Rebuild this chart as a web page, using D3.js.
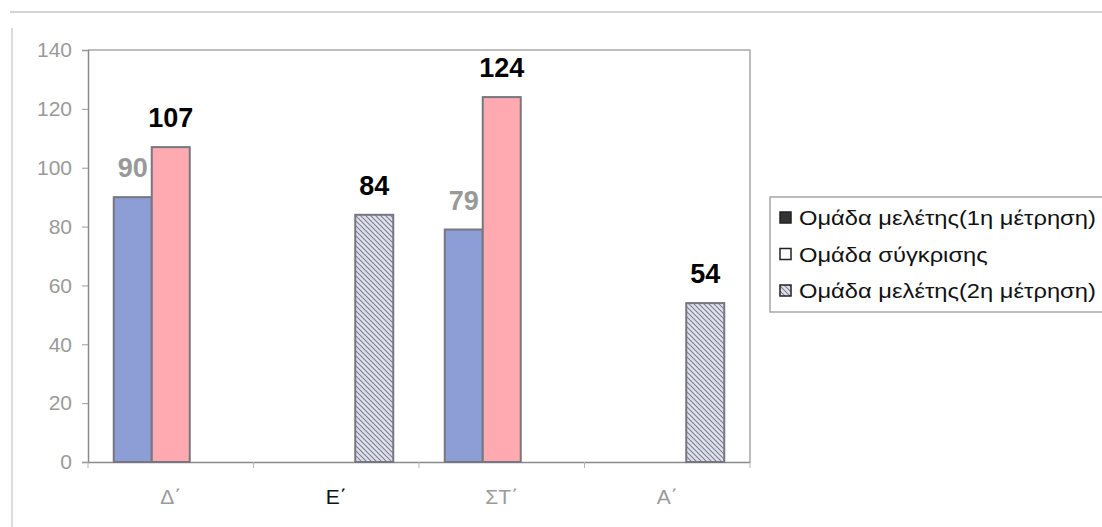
<!DOCTYPE html>
<html>
<head>
<meta charset="utf-8">
<script src="https://cdn.jsdelivr.net/npm/d3@7"></script>
<style>
  body { margin: 0; background: #fff; }
  svg { display: block; font-family: "Liberation Sans", Arial, sans-serif; }
</style>
</head>
<body>
<svg id="chart" width="1102" height="527"></svg>
<script>
const categories = ["Δ΄", "Ε΄", "ΣΤ΄", "Α΄"];
const seriesNames = ["Ομάδα μελέτης(1η  μέτρηση)", "Ομάδα σύγκρισης", "Ομάδα μελέτης(2η μέτρηση)"];
const study1 = [90, null, 79, null];
const comparison = [107, null, 124, null];
const study2 = [null, 84, null, 54];
const yTicks = [0, 20, 40, 60, 80, 100, 120, 140];

const plot = { left: 88, right: 750, top: 50, bottom: 462 };
const barWidth = 38;

const svg = d3.select('#chart');

// hatch pattern for the second measurement
const defs = svg.append('defs');
const pat = defs.append('pattern')
  .attr('id', 'hatch')
  .attr('patternUnits', 'userSpaceOnUse')
  .attr('width', 5).attr('height', 5);
pat.append('rect').attr('width', 5).attr('height', 5).attr('fill', '#dfe1ee');
pat.append('path')
  .attr('d', 'M-1,-1 L6,6 M-1,4 L1,6 M4,-1 L6,1')
  .attr('stroke', '#7d7f8c').attr('stroke-width', 1.1);

// outer frame (scanned chart border)
svg.append('line').attr('x1', 10).attr('x2', 1102).attr('y1', 12).attr('y2', 12)
  .attr('stroke', '#c4c4c4').attr('stroke-width', 1.5);
svg.append('line').attr('x1', 12).attr('x2', 12).attr('y1', 28).attr('y2', 527)
  .attr('stroke', '#cfcfcf').attr('stroke-width', 1.5);

const x = d3.scaleBand().domain(categories).range([plot.left, plot.right]);
const y = d3.scaleLinear().domain([0, 140]).range([plot.bottom, plot.top]);
const x1 = d3.scaleBand().domain(seriesNames).range([-barWidth * 1.5, barWidth * 1.5]);

// plot area border (top and right)
svg.append('path')
  .attr('d', `M${plot.left},${plot.top}H${plot.right}V${plot.bottom}`)
  .attr('fill', 'none').attr('stroke', '#a8a8a8').attr('stroke-width', 1.5);

// y axis
const yAxis = svg.append('g')
  .attr('transform', `translate(${plot.left},0)`)
  .call(d3.axisLeft(y).tickValues(yTicks).tickSize(6).tickPadding(10));
yAxis.select('.domain').attr('stroke', '#8a8a8a').attr('stroke-width', 1.5);
yAxis.selectAll('.tick line').attr('stroke', '#9a9a9a');
yAxis.selectAll('.tick text')
  .attr('fill', '#9a9a9a').attr('font-size', 21).style('font-family', 'inherit');

// x axis
const xAxis = svg.append('g')
  .attr('transform', `translate(0,${plot.bottom})`)
  .call(d3.axisBottom(x).tickSize(0).tickPadding(27));
xAxis.select('.domain').attr('stroke', '#8a8a8a').attr('stroke-width', 1.5);
xAxis.selectAll('.tick text')
  .attr('fill', d => d === 'Ε΄' ? '#111' : '#9a9a9a')
  .attr('font-size', 21).style('font-family', 'inherit');
svg.append('g').selectAll('line')
  .data(categories.concat(['end']))
  .join('line')
  .attr('x1', (d, i) => i < categories.length ? x(d) : plot.right)
  .attr('x2', (d, i) => i < categories.length ? x(d) : plot.right)
  .attr('y1', plot.bottom).attr('y2', plot.bottom + 6)
  .attr('stroke', '#b5b5b5');

// bars
const series = [
  { name: seriesNames[0], values: study1, fill: '#8d9dd6', label: '#999' },
  { name: seriesNames[1], values: comparison, fill: '#ffa9b1', label: '#000' },
  { name: seriesNames[2], values: study2, fill: 'url(#hatch)', label: '#000' }
];

series.forEach(s => {
  const pts = categories.map((c, i) => ({ c, v: s.values[i] })).filter(d => d.v != null);
  const g = svg.append('g');
  g.selectAll('rect')
    .data(pts)
    .join('rect')
    .attr('x', d => x(d.c) + x.bandwidth() / 2 + x1(s.name))
    .attr('y', d => y(d.v))
    .attr('width', barWidth)
    .attr('height', d => y(0) - y(d.v))
    .attr('fill', s.fill)
    .attr('stroke', '#77777f').attr('stroke-width', 2);
  g.selectAll('text')
    .data(pts)
    .join('text')
    .attr('x', d => x(d.c) + x.bandwidth() / 2 + x1(s.name) + barWidth / 2)
    .attr('y', d => y(d.v) - 20)
    .attr('text-anchor', 'middle')
    .attr('font-size', 27).attr('font-weight', 'bold')
    .attr('fill', s.label)
    .text(d => d.v);
});

// legend
const legend = svg.append('g');
legend.append('rect')
  .attr('x', 770).attr('y', 197).attr('width', 340).attr('height', 115)
  .attr('fill', '#fff').attr('stroke', '#a8a8a8').attr('stroke-width', 1.5);
const rows = legend.selectAll('g.row')
  .data(seriesNames)
  .join('g')
  .attr('class', 'row')
  .attr('transform', (d, i) => `translate(0,${218 + i * 36.5})`);
rows.append('rect')
  .attr('x', 780).attr('y', -6).attr('width', 11).attr('height', 11)
  .attr('fill', (d, i) => i === 0 ? '#333' : i === 1 ? '#fff' : 'url(#hatch)')
  .attr('stroke', '#222').attr('stroke-width', 1.5);
// the scanned legend text is stretched sideways a little
rows.append('text')
  .attr('transform', 'translate(799,0) scale(1.13,1)')
  .attr('dominant-baseline', 'central')
  .attr('font-size', 21).attr('fill', '#111')
  .text(d => d);
</script>
</body>
</html>
